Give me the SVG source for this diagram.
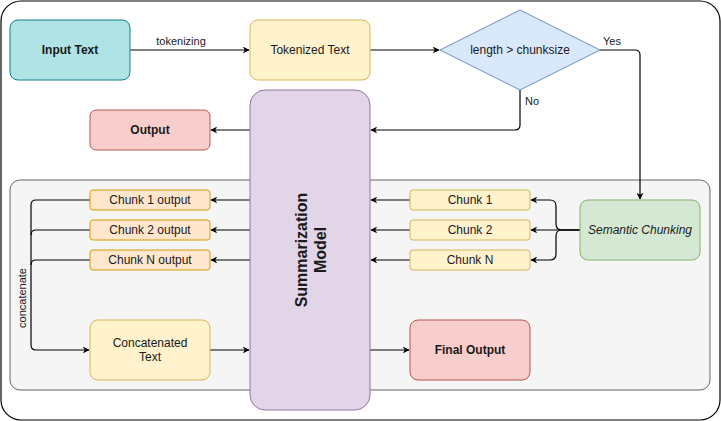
<svg xmlns="http://www.w3.org/2000/svg" width="721" height="421" viewBox="0 0 721 421">
<style>
text{font-family:"Liberation Sans",Arial,sans-serif;font-size:12px;fill:#1a1a1a;text-anchor:middle;dominant-baseline:central}
.b{font-weight:bold}
.lbl{font-size:11px}
.e{fill:none;stroke:#000;stroke-width:1.2}
</style>
<defs>
<marker id="a" viewBox="0 0 10 10" refX="9" refY="5" markerWidth="7" markerHeight="7" markerUnits="userSpaceOnUse" orient="auto">
<path d="M0,0 L10,5 L0,10 L3,5 Z" fill="#000"/>
</marker>
</defs>
<rect x="1" y="1" width="719" height="419" rx="20" fill="#fff" stroke="#000" stroke-width="1.2"/>
<g id="container"><rect x="10" y="180" width="700" height="210" rx="10" fill="#f5f5f5" stroke="#666"/></g>

<g id="connectors">
<path class="e" d="M130,50 L249,50" marker-end="url(#a)"/>
<text class="lbl" x="181" y="41">tokenizing</text>
<path class="e" d="M370,50 L439,50" marker-end="url(#a)"/>
<path class="e" d="M600,50 L635,50 Q640,50 640,55 L640,199" marker-end="url(#a)"/>
<text class="lbl" x="612" y="41">Yes</text>
<path class="e" d="M520,90 L520,125 Q520,130 515,130 L371,130" marker-end="url(#a)"/>
<text class="lbl" x="532" y="101">No</text>
<path class="e" d="M250,130 L211,130" marker-end="url(#a)"/>
<path class="e" d="M250,200 L211,200" marker-end="url(#a)"/>
<path class="e" d="M250,230 L211,230" marker-end="url(#a)"/>
<path class="e" d="M250,260 L211,260" marker-end="url(#a)"/>
<path class="e" d="M410,200 L371,200" marker-end="url(#a)"/>
<path class="e" d="M410,230 L371,230" marker-end="url(#a)"/>
<path class="e" d="M410,260 L371,260" marker-end="url(#a)"/>
<path class="e" d="M580,230 L562,230 Q556,230 556,224 L556,206 Q556,200 550,200 L531,200" marker-end="url(#a)"/>
<path class="e" d="M580,230 L531,230" marker-end="url(#a)"/>
<path class="e" d="M580,230 L562,230 Q556,230 556,236 L556,254 Q556,260 550,260 L531,260" marker-end="url(#a)"/>
<path class="e" d="M90,200 L36,200 Q31,200 31,205 L31,345 Q31,350 36,350 L89,350" marker-end="url(#a)"/>
<path class="e" d="M90,230 L36,230 Q31,230 31,235" />
<path class="e" d="M90,260 L36,260 Q31,260 31,265" />
<text class="lbl" x="0" y="0" transform="translate(22,298) rotate(-90)">concatenate</text>
<path class="e" d="M210,350 L249,350" marker-end="url(#a)"/>
<path class="e" d="M370,350 L409,350" marker-end="url(#a)"/>
</g>

<g id="input-text"><rect x="10" y="20" width="120" height="60" rx="8" fill="#b0e3e6" stroke="#0e8088"/><text class="b" x="70" y="50">Input Text</text></g>
<g id="tokenized-text"><rect x="250" y="20" width="120" height="60" rx="8" fill="#fff2cc" stroke="#d6b656"/><text x="310" y="50">Tokenized Text</text></g>
<g id="decision"><path d="M520,10 L600,50 L520,90 L440,50 Z" fill="#dae8fc" stroke="#6c8ebf"/><text x="520" y="50">length &gt; chunksize</text></g>
<g id="output"><rect x="90" y="110" width="120" height="40" rx="6" fill="#f8cecc" stroke="#b85450"/><text class="b" x="150" y="130">Output</text></g>
<g id="summarization-model"><rect x="250" y="90" width="120" height="320" rx="15" fill="#e1d5e7" stroke="#9673a6"/>
<text class="b" style="font-size:16px" transform="translate(310,250) rotate(-90)"><tspan x="0" y="-9.5">Summarization</tspan><tspan x="0" y="9.5">Model</tspan></text></g>
<g id="chunk1-output"><rect x="90" y="190" width="120" height="20" rx="3" fill="#ffe6cc" stroke="#d79b00"/><text x="150" y="200">Chunk 1 output</text></g>
<g id="chunk2-output"><rect x="90" y="220" width="120" height="20" rx="3" fill="#ffe6cc" stroke="#d79b00"/><text x="150" y="230">Chunk 2 output</text></g>
<g id="chunkN-output"><rect x="90" y="250" width="120" height="20" rx="3" fill="#ffe6cc" stroke="#d79b00"/><text x="150" y="260">Chunk N output</text></g>
<g id="chunk1"><rect x="410" y="190" width="120" height="20" rx="3" fill="#fff2cc" stroke="#d6b656"/><text x="470" y="200">Chunk 1</text></g>
<g id="chunk2"><rect x="410" y="220" width="120" height="20" rx="3" fill="#fff2cc" stroke="#d6b656"/><text x="470" y="230">Chunk 2</text></g>
<g id="chunkN"><rect x="410" y="250" width="120" height="20" rx="3" fill="#fff2cc" stroke="#d6b656"/><text x="470" y="260">Chunk N</text></g>
<g id="semantic-chunking"><rect x="580" y="200" width="120" height="60" rx="8" fill="#d5e8d4" stroke="#82b366"/><text x="640" y="230" font-style="italic">Semantic Chunking</text></g>
<g id="concatenated-text"><rect x="90" y="320" width="120" height="60" rx="8" fill="#fff2cc" stroke="#d6b656"/><text x="150" y="343">Concatenated</text><text x="150" y="357">Text</text></g>
<g id="final-output"><rect x="410" y="320" width="120" height="60" rx="8" fill="#f8cecc" stroke="#b85450"/><text class="b" x="470" y="350">Final Output</text></g>
</svg>
